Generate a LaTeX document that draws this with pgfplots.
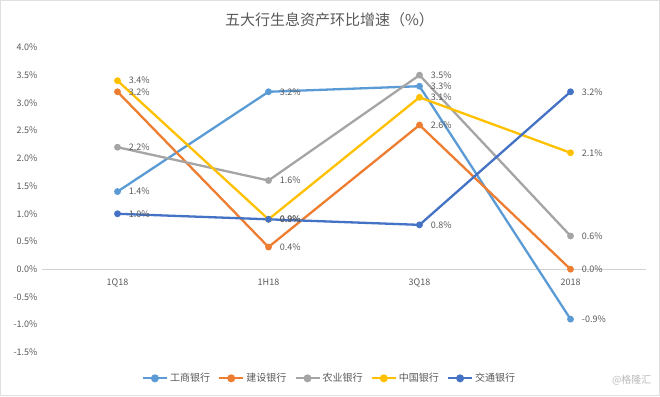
\documentclass[border=0pt]{standalone}
\usepackage{pgfplots}
\pgfplotsset{compat=1.18}
\usepackage{fontspec}
\setmainfont{Noto Sans CJK SC}
\definecolor{cA}{HTML}{5B9BD5}
\definecolor{cB}{HTML}{ED7D31}
\definecolor{cC}{HTML}{A5A5A5}
\definecolor{cD}{HTML}{FFC000}
\definecolor{cE}{HTML}{4472C4}
\definecolor{txt}{HTML}{595959}
\begin{document}
\begin{tikzpicture}[x=1bp,y=1bp]
\useasboundingbox (0,0) rectangle (660,396);
\draw[gray!25,line width=0.8bp] (0.4,0.4) rectangle (659.6,395.6);
\begin{axis}[
  at={(42bp,43.6bp)}, anchor=south west,
  scale only axis, width=604bp, height=305bp,
  xmin=-0.5, xmax=3.5, ymin=-1.5, ymax=4.0,
  axis x line*=middle, axis y line*=left,
  x axis line style={draw=gray!35, line width=0.8bp, -},
  y axis line style={draw=none},
  major tick length=0pt,
  xtick={0,1,2,3}, xticklabels={1Q18,1H18,3Q18,2018},
  ytick={-1.5,-1,...,4.0},
  /pgf/number format/assume math mode=true,
  yticklabel={\pgfmathprintnumber[fixed,fixed zerofill,precision=1]{\tick}\%},
  tick label style={font=\fontsize{9bp}{10bp}\selectfont, text=txt},
  yticklabel style={xshift=-1bp},
  xticklabel style={yshift=-6bp},
  title={五大行生息资产环比增速（\%）},
  title style={font=\fontsize{15bp}{18bp}\selectfont, text=txt, at={(0.476,1)}, yshift=11bp},
  clip=false,
  every axis plot/.append style={line width=2.3bp, mark=*, mark size=2.2bp},
  nodes near coords={\pgfmathprintnumber[fixed,fixed zerofill,precision=1,assume math mode=true]{\pgfplotspointmeta}\%},
  nodes near coords style={anchor=west, xshift=7bp, font=\fontsize{9bp}{10bp}\selectfont, text=txt},
  legend columns=5,
  legend style={at={(0.476,-0.085)}, anchor=center, draw=none, fill=none,
    font=\fontsize{10bp}{12bp}\selectfont, text=txt,
    /tikz/every even column/.append style={column sep=6bp}},
  legend image code/.code={\draw[#1, line width=2.3bp] (0bp,0bp) -- (24bp,0bp); \fill[#1] (12bp,0bp) circle (2.8bp);},
]
\addplot[color=cA, mark options={fill=cA}] coordinates {(0,1.4) (1,3.2) (2,3.3) (3,-0.9)};
\addlegendentry{工商银行}
\addplot[color=cB, mark options={fill=cB}] coordinates {(0,3.2) (1,0.4) (2,2.6) (3,0.0)};
\addlegendentry{建设银行}
\addplot[color=cC, mark options={fill=cC}] coordinates {(0,2.2) (1,1.6) (2,3.5) (3,0.6)};
\addlegendentry{农业银行}
\addplot[color=cD, mark options={fill=cD}] coordinates {(0,3.4) (1,0.9) (2,3.1) (3,2.1)};
\addlegendentry{中国银行}
\addplot[color=cE, mark options={fill=cE}] coordinates {(0,1.0) (1,0.9) (2,0.8) (3,3.2)};
\addlegendentry{交通银行}
\end{axis}
\node[anchor=east, text=gray!55, font=\fontsize{10bp}{12bp}\selectfont] at (655,16) {@格隆汇};
\end{tikzpicture}
\end{document}
